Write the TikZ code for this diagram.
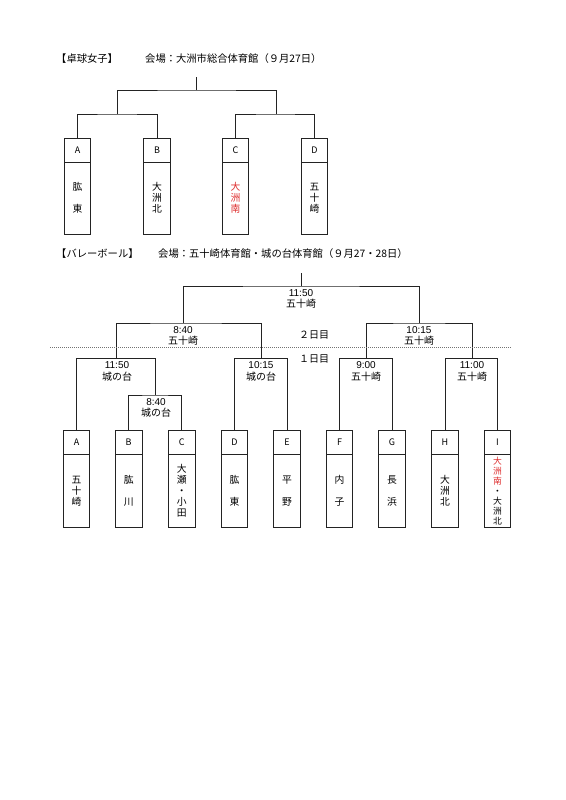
\documentclass[tikz,border=0pt]{standalone}
\usepackage{fontspec}
\setmainfont{Noto Sans CJK JP}
\newfontfamily\digitfont{Liberation Sans}
\definecolor{myred}{RGB}{222,45,45}
\definecolor{ink}{RGB}{35,35,35}
\begin{document}
\begin{tikzpicture}[x=1pt,y=-1pt,
  ln/.style={line width=0.75pt,draw=ink},
  lblbox/.style={draw=ink,line width=0.75pt,minimum width=26.5pt,inner sep=0pt,font=\fontsize{9}{11}\selectfont},
  bodybox/.style={draw=ink,line width=0.75pt,minimum width=26.5pt,inner sep=0pt,align=center,font=\fontsize{9.8}{11}\selectfont},
  hdr/.style={anchor=west,inner sep=0pt,font=\fontsize{10.3}{12}\selectfont},
  tm/.style={inner sep=0pt,font=\fontsize{10}{12}\selectfont},
  tmd/.style={inner sep=0pt,anchor=base,font=\fontsize{10}{12}\digitfont},
  tmv/.style={inner sep=0pt,anchor=base,font=\fontsize{10}{12}\selectfont},
]
\useasboundingbox (0,0) rectangle (565,800);
\fill[white] (0,0) rectangle (565,800);

% ---------- Table tennis ----------
\node[hdr] (h1) at (56,59) {【卓球女子】};
\node[hdr] (h1b) at (145,59) {会場：大洲市総合体育館（９月27日）};

\foreach \n/\x/\l in {tA/77.5/A, tB/157/B, tC/235.5/C, tD/314.5/D}{
  \node[lblbox,minimum height=24pt] (\n) at (\x,150) {\l};
}
\node[bodybox,minimum height=72pt] (tAb) at (77.5,198) {肱\\[11pt]東};
\node[bodybox,minimum height=72pt] (tBb) at (157,198) {大\\洲\\北};
\node[bodybox,minimum height=72pt,text=myred] (tCb) at (235.5,198) {大\\洲\\南};
\node[bodybox,minimum height=72pt] (tDb) at (314.5,198) {五\\十\\崎};

\coordinate (tAB) at (117,114);
\coordinate (tCD) at (276,114);
\coordinate (tF) at (196.5,90);
\coordinate (tTop) at (196.5,77);
\draw[ln] (tA.north) |- (tAB) -| (tB.north);
\draw[ln] (tC.north) |- (tCD) -| (tD.north);
\draw[ln] (tAB) |- (tF) -| (tCD);
\draw[ln] (tF) -- (tTop);

% ---------- Volleyball ----------
\node[hdr] (h2) at (56,254) {【バレーボール】};
\node[hdr] (h2b) at (158,254) {会場：五十崎体育館・城の台体育館（９月27・28日）};

\foreach \n/\x/\l in {vA/76.5/A, vB/128.7/B, vC/181.7/C, vD/234.5/D, vE/287/E, vF/339.5/F, vG/392/G, vH/445/H, vI/497.5/I}{
  \node[lblbox,minimum height=23.6pt] (\n) at (\x,442.5) {\l};
}
\node[bodybox,minimum height=73pt] (vAb) at (76.5,490.8) {五\\十\\崎};
\node[bodybox,minimum height=73pt] (vBb) at (128.7,490.8) {肱\\[11pt]川};
\node[bodybox,minimum height=73pt,font=\fontsize{9.8}{11.2}\selectfont] (vCb) at (181.7,490.8) {大\\瀬\\・\\小\\田};
\node[bodybox,minimum height=73pt] (vDb) at (234.5,490.8) {肱\\[11pt]東};
\node[bodybox,minimum height=73pt] (vEb) at (287,490.8) {平\\[11pt]野};
\node[bodybox,minimum height=73pt] (vFb) at (339.5,490.8) {内\\[11pt]子};
\node[bodybox,minimum height=73pt] (vGb) at (392,490.8) {長\\[11pt]浜};
\node[bodybox,minimum height=73pt] (vHb) at (445,490.8) {大\\洲\\北};
\node[bodybox,minimum height=73pt,font=\fontsize{8.8}{10}\selectfont] (vIb) at (497.5,490.8) {\textcolor{myred}{大}\\\textcolor{myred}{洲}\\\textcolor{myred}{南}\\・\\大\\洲\\北};

\coordinate (vBC) at (155.5,395);
\coordinate (v1) at (116.7,358.5);
\coordinate (v2) at (261,358.5);
\coordinate (v3) at (366,358.5);
\coordinate (v4) at (472,358.5);
\coordinate (vL) at (183,323);
\coordinate (vR) at (419,323);
\coordinate (vFin) at (301,286);
\coordinate (vTop) at (301,273);

\draw[ln] (vB.north) |- (vBC) -| (vC.north);
\draw[ln] (vA.north) |- (v1) -| (vBC);
\draw[ln] (vD.north) |- (v2) -| (vE.north);
\draw[ln] (vF.north) |- (v3) -| (vG.north);
\draw[ln] (vH.north) |- (v4) -| (vI.north);
\draw[ln] (v1) |- (vL) -| (v2);
\draw[ln] (v3) |- (vR) -| (v4);
\draw[ln] (vL) |- (vFin) -| (vR);
\draw[ln] (vFin) -- (vTop);

% day separator
\coordinate (dL) at (50,347.5);
\coordinate (dR) at (512,347.5);
\draw[line width=0.6pt,draw=black!55,dash pattern=on 1pt off 1pt] (dL) -- (dR);
\node[tm] (d2) at (314,335) {２日目};
\node[tm] (d1) at (314,358.5) {１日目};

% time / venue labels (y = line of the bracket above them)
\foreach \n/\x/\y/\t/\v in {
  lF/301/286/11:50/五十崎,
  lL/183/323/8:40/五十崎,
  lR/419/323/10:15/五十崎,
  l1/117/358.5/11:50/城の台,
  l2/261/358.5/10:15/城の台,
  l3/366/358.5/9:00/五十崎,
  l4/472/358.5/11:00/五十崎,
  lBC/156/395/8:40/城の台}{
  \node[tmd] (\n t) at (\x,\y+10) {\t};
  \node[tmv] (\n v) at (\x,\y+21.5) {\v};
}
\end{tikzpicture}
\end{document}
